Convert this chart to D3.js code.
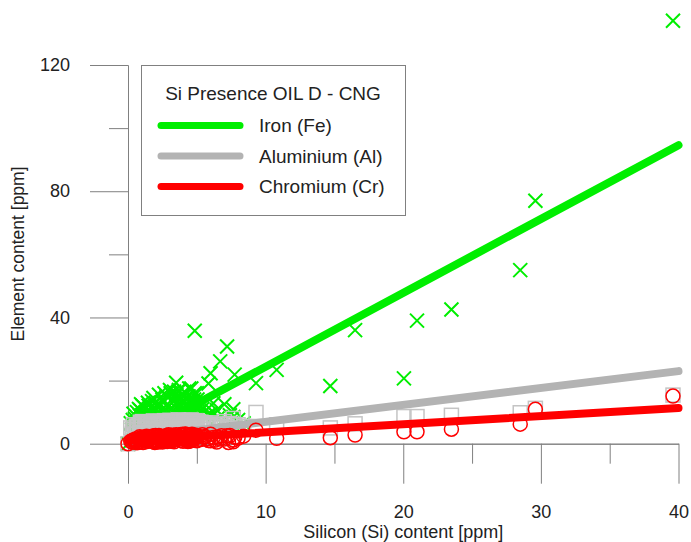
<!DOCTYPE html>
<html>
<head>
<meta charset="utf-8">
<script src="https://cdn.jsdelivr.net/npm/d3@7"></script>
<style>
  body { margin: 0; background: #fff; }
  text { font-family: "Liberation Sans", Arial, sans-serif; fill: #222; }
</style>
</head>
<body>
<script>
// samples: silicon content and the element contents measured with it
var si = [0.0, 0.3, 0.5, 0.6, 0.8, 0.9, 1.0, 1.1, 1.2, 1.3, 1.4, 1.5, 1.6, 1.7, 1.8, 1.9, 2.0, 2.1, 2.2, 2.3,
          2.4, 2.5, 2.6, 2.7, 2.8, 2.9, 3.0, 3.1, 3.2, 3.3, 3.4, 3.5, 3.6, 3.7, 3.8, 3.9, 4.0, 4.1, 4.2, 4.3,
          4.4, 4.5, 4.6, 4.7, 4.8, 4.9, 5.0, 5.2, 5.5, 5.8,
          0.2, 0.4, 0.7, 0.9, 1.05, 1.25, 1.45, 1.65, 1.85, 2.05,
          2.25, 2.45, 2.65, 2.85, 3.05, 3.25, 3.45, 3.65, 3.85, 4.05,
          4.25, 4.45, 4.65, 4.85, 5.05, 0.35, 0.65, 0.95, 1.35, 1.75,
          2.15, 2.55, 2.95, 3.35, 3.75, 4.15, 4.55, 4.95, 5.3, 5.6,
          6.0, 6.5, 7.0, 7.4, 8.0, 8.4, 1.15, 1.55, 1.95, 2.35,
          2.75, 3.15, 3.55, 3.95, 4.35, 4.75, 0.55, 0.85, 1.5, 2.0,
          2.5, 3.0, 3.5, 4.0, 4.5, 5.0, 5.4, 6.3, 6.8, 7.3,
          39.6, 29.6, 28.5, 23.5, 21.0, 20.05, 16.5, 14.7, 10.8, 9.3, 7.75, 7.2, 6.7, 6.0, 4.85, 3.5, 5.85, 7.65, 7.65, 6.45, 6.2];
var fe = [0.0, 4.5, 8.0, 6.0, 11.0, 5.0, 9.0, 3.5, 7.0, 10.0, 5.5, 12.0, 8.0, 4.0, 11.0, 6.5, 13.0, 9.5, 5.0, 12.5,
          7.5, 14.0, 10.5, 6.0, 15.0, 8.5, 12.0, 16.0, 9.0, 13.5, 6.5, 15.5, 11.0, 17.0, 8.0, 14.5, 10.0, 16.5, 12.5, 7.0,
          15.0, 11.5, 17.5, 9.5, 14.0, 12.0, 16.0, 10.0, 13.0, 9.0,
          6.5, 9.5, 7.0, 10.5, 12.0, 8.5, 13.0, 10.0, 14.5, 11.0,
          15.5, 9.0, 16.0, 12.5, 17.0, 10.5, 14.0, 16.5, 12.0, 15.0,
          9.0, 17.5, 13.0, 16.0, 14.0, 7.5, 10.0, 12.5, 9.5, 13.5,
          11.5, 13.0, 10.0, 16.5, 12.5, 14.5, 13.5, 11.0, 12.0, 8.5,
          9.5, 8.0, 12.5, 9.0, 7.5, 6.5, 5.5, 6.0, 8.0, 7.0,
          9.5, 11.0, 7.5, 13.0, 9.0, 10.5, 4.0, 9.0, 6.5, 8.5,
          10.0, 7.0, 13.0, 11.5, 8.0, 12.0, 11.0, 9.5, 7.0, 6.5,
          134, 77, 55, 42.5, 39, 20.7, 36, 18.3, 23.4, 19.2, 21.9, 30.8, 26.1, 22.3, 35.8, 19.3, 19.1, 10.9, 8.5, 10.7, 12.8];
var al = [0.0, 3.0, 4.0, 5.5, 6.0, 3.5, 6.5, 2.5, 5.0, 6.8, 4.0, 6.2, 5.5, 3.0, 6.5, 4.5, 7.0, 5.8, 3.8, 6.4,
          5.0, 6.8, 6.0, 4.2, 7.2, 5.5, 6.6, 7.0, 5.2, 6.9, 4.8, 7.1, 6.3, 7.4, 5.1, 6.7, 6.0, 7.3, 6.5, 4.6,
          7.0, 6.2, 7.5, 5.6, 6.8, 6.4, 7.2, 6.0, 6.6, 5.8,
          5.0, 6.0, 5.5, 6.8, 7.0, 6.2, 6.9, 5.8, 7.2, 6.5,
          7.0, 6.0, 7.3, 6.6, 7.4, 6.3, 7.0, 7.5, 6.8, 7.2,
          6.5, 7.4, 6.9, 7.3, 7.0, 4.5, 5.5, 6.3, 5.0, 6.0,
          4.5, 5.2, 4.8, 6.0, 5.5, 5.0, 6.2, 5.8, 6.8, 6.5,
          6.6, 6.2, 7.0, 6.4, 6.0, 5.5, 3.5, 4.0, 4.2, 3.8,
          4.0, 4.5, 4.2, 5.0, 4.6, 5.2, 3.0, 3.5, 3.2, 3.6,
          3.8, 4.0, 4.4, 4.2, 4.8, 5.0, 4.6, 5.5, 5.0, 4.8,
          15.4, 11.2, 9.8, 9.0, 8.6, 8.6, 6.3, 5.0, 6.0, 9.9, 6.0, 5.5, 6.2, 5.8, 6.5, 6.0, 5.5, 8.0, 5.0, 5.5, 6.0];
var cr = [0.0, 0.5, 1.0, 0.8, 1.5, 0.6, 1.2, 0.4, 1.8, 2.0, 0.7, 1.5, 2.2, 0.9, 1.3, 2.5, 1.0, 1.8, 0.5, 2.3,
          1.4, 2.0, 0.8, 1.6, 2.6, 1.1, 2.1, 1.7, 0.9, 2.4, 1.3, 2.8, 1.9, 2.2, 1.0, 2.6, 1.5, 2.0, 2.9, 1.2,
          2.3, 1.7, 2.7, 1.1, 2.5, 1.9, 2.2, 1.4, 2.0, 1.6,
          0.8, 1.2, 0.5, 1.6, 2.0, 0.9, 1.4, 2.3, 0.6, 1.9,
          2.6, 1.1, 2.2, 0.7, 1.8, 2.7, 1.3, 2.0, 2.9, 1.5,
          2.4, 0.8, 3.0, 1.7, 2.5, 1.0, 0.3, 1.9, 2.4, 0.9,
          2.1, 1.4, 2.8, 0.6, 1.6, 3.1, 1.0, 2.7, 1.3, 2.3,
          0.9, 2.1, 1.5, 2.6, 1.8, 2.4, 1.2, 2.0, 0.4, 1.7,
          2.2, 0.8, 1.5, 2.9, 0.7, 1.9, 1.5, 2.2, 1.0, 2.6,
          0.5, 1.6, 2.3, 0.8, 1.3, 0.9, 2.8, 1.1, 2.5, 0.4,
          15.1, 10.9, 6.2, 4.6, 3.8, 3.8, 2.75, 1.9, 1.7, 4.3, 2.0, 2.5, 1.5, 3.0, 2.3, 1.8, 1.0, 1.2, 0.6, 0.5, 2.0];

// linear fits, drawn over the silicon range
var fitX = [0, 40];
var fitFe = [1.0, 94.6];
var fitAl = [1.6, 23.0];
var fitCr = [1.0, 11.3];

var xMajor = [0, 10, 20, 30, 40], xMinor = [5, 15, 25, 35];
var yMajor = [0, 40, 80, 120], yMinor = [20, 60, 100];

var legendTitle = "Si Presence OIL D - CNG";
var legendNames = ["Iron (Fe)", "Aluminium (Al)", "Chromium (Cr)"];
var colors = ["#00ee00", "#b3b3b3", "#ff0000"];

var width = 691, height = 542;
var axisColor = "#808080";

var svg = d3.select("body").append("svg")
    .attr("width", width)
    .attr("height", height);

var x = d3.scaleLinear().domain([0, 40]).range([128, 678.5]);
var y = d3.scaleLinear().domain([0, 120]).range([443.7, 65]);

function styleAxis(g) {
    g.select(".domain").attr("stroke", axisColor);
    g.selectAll(".tick line").attr("stroke", axisColor);
    g.selectAll(".tick text")
        .attr("font-size", "18px")
        .attr("fill", "#222")
        .attr("font-family", "'Liberation Sans', Arial, sans-serif");
}

// y axis
svg.append("g")
    .attr("transform", "translate(" + x(0) + ",0)")
    .call(d3.axisLeft(y).tickValues(yMinor).tickSize(19).tickSizeOuter(0).tickFormat(""))
    .call(styleAxis);
svg.append("g")
    .attr("transform", "translate(" + x(0) + ",0)")
    .call(d3.axisLeft(y).tickValues(yMajor).tickSize(38).tickSizeOuter(0).tickPadding(20).tickFormat(d3.format("d")))
    .call(styleAxis);

// x axis sits on y = 0
svg.append("g")
    .attr("transform", "translate(0," + y(0) + ")")
    .call(d3.axisBottom(x).tickValues(xMinor).tickSize(20).tickSizeOuter(0).tickFormat(""))
    .call(styleAxis);
svg.append("g")
    .attr("transform", "translate(0," + y(0) + ")")
    .call(d3.axisBottom(x).tickValues(xMajor).tickSize(40).tickSizeOuter(0).tickPadding(22).tickFormat(d3.format("d")))
    .call(styleAxis);

svg.append("text")
    .attr("x", x(20))
    .attr("y", 538)
    .attr("font-size", "18px")
    .attr("text-anchor", "middle")
    .text("Silicon (Si) content [ppm]");

svg.append("text")
    .attr("transform", "translate(24,254) rotate(-90)")
    .attr("font-size", "17.5px")
    .attr("text-anchor", "middle")
    .text("Element content [ppm]");

var pts = si.map(function(d, i) { return { si: d, fe: fe[i], al: al[i], cr: cr[i] }; });

var fitLine = d3.line()
    .x(function(d) { return x(d[0]); })
    .y(function(d) { return y(d[1]); });

function drawFit(vals, color) {
    svg.append("path")
        .datum(fitX.map(function(d, i) { return [d, vals[i]]; }))
        .attr("d", fitLine)
        .attr("fill", "none")
        .attr("stroke", color)
        .attr("stroke-width", 8)
        .attr("stroke-linecap", "round");
}

// iron: crosses
svg.append("g").selectAll("path")
    .data(pts)
    .enter().append("path")
    .attr("transform", function(d) { return "translate(" + x(d.si) + "," + y(d.fe) + ")"; })
    .attr("d", "M-7,-7L7,7M-7,7L7,-7")
    .attr("fill", "none")
    .attr("stroke", colors[0])
    .attr("stroke-width", 2);
drawFit(fitFe, colors[0]);

// aluminium: squares
svg.append("g").selectAll("rect")
    .data(pts)
    .enter().append("rect")
    .attr("x", function(d) { return x(d.si) - 7; })
    .attr("y", function(d) { return y(d.al) - 7; })
    .attr("width", 14)
    .attr("height", 14)
    .attr("fill", "none")
    .attr("stroke", "#c4c4c4")
    .attr("stroke-width", 1.5);
drawFit(fitAl, colors[1]);

// chromium: circles
svg.append("g").selectAll("circle")
    .data(pts)
    .enter().append("circle")
    .attr("cx", function(d) { return x(d.si); })
    .attr("cy", function(d) { return y(d.cr); })
    .attr("r", 7)
    .attr("fill", "none")
    .attr("stroke", colors[2])
    .attr("stroke-width", 1.5);
drawFit(fitCr, colors[2]);

// legend
var legend = svg.append("g");
legend.append("rect")
    .attr("x", 141.5)
    .attr("y", 65.5)
    .attr("width", 264)
    .attr("height", 150)
    .attr("fill", "#fff")
    .attr("stroke", axisColor);
legend.append("text")
    .attr("x", 273)
    .attr("y", 99.5)
    .attr("font-size", "19px")
    .attr("text-anchor", "middle")
    .text(legendTitle);
var item = legend.selectAll(".item")
    .data(legendNames)
    .enter().append("g")
    .attr("class", "item")
    .attr("transform", function(d, i) { return "translate(0," + (125.5 + i * 30.5) + ")"; });
item.append("line")
    .attr("x1", 161).attr("x2", 240)
    .attr("stroke", function(d, i) { return colors[i]; })
    .attr("stroke-width", 7)
    .attr("stroke-linecap", "round");
item.append("text")
    .attr("x", 259)
    .attr("y", 6.5)
    .attr("font-size", "19px")
    .text(function(d) { return d; });
</script>
</body>
</html>
